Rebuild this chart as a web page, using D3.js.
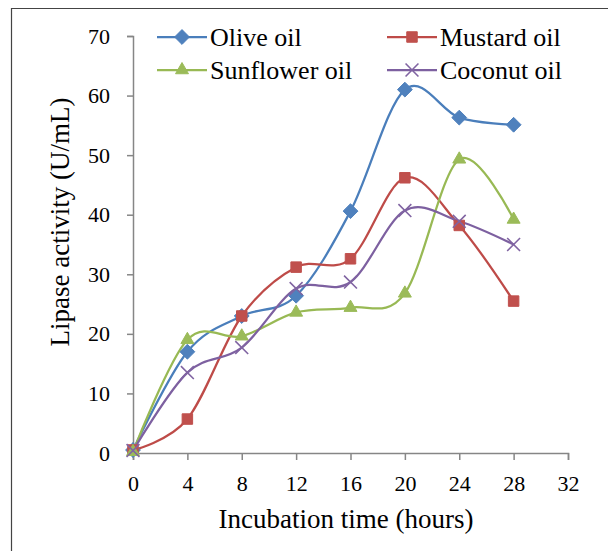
<!DOCTYPE html>
<html>
<head>
<meta charset="utf-8">
<script src="https://cdn.jsdelivr.net/npm/d3@7"></script>
<style>
  body { margin: 0; background: #fff; }
  svg text { font-family: "Liberation Serif", "Times New Roman", serif !important; fill: #000; }
</style>
</head>
<body>
<div id="app"></div>
<script>
const hours = [0, 4, 8, 12, 16, 20, 24, 28]
const olive = [0.5, 17.0, 23.0, 26.4, 40.6, 61.0, 56.3, 55.1]
const mustard = [0.5, 5.7, 23.0, 31.2, 32.6, 46.2, 38.2, 25.5]
const sunflower = [0.2, 19.0, 19.6, 23.6, 24.4, 26.8, 49.3, 39.2]
const coconut = [0.4, 13.5, 17.7, 27.6, 28.7, 40.7, 38.9, 35.0]
const xTicks = [0, 4, 8, 12, 16, 20, 24, 28, 32]
const yTicks = [0, 10, 20, 30, 40, 50, 60, 70]

const series = [
  { name: 'Olive oil', values: olive, color: '#4A7EBB', marker: '#4F81BD', symbol: d3.symbolDiamond2 },
  { name: 'Mustard oil', values: mustard, color: '#BE4B48', marker: '#C0504D', symbol: d3.symbolSquare2 },
  { name: 'Sunflower oil', values: sunflower, color: '#98B954', marker: '#9BBB59', symbol: d3.symbolTriangle2 },
  { name: 'Coconut oil', values: coconut, color: '#7D60A0', marker: '#8064A2', symbol: d3.symbolX }
]

const serif = '"Liberation Serif", "Times New Roman", serif'
const width = 608, height = 551
const svg = d3.select('#app').append('svg')
  .attr('width', width)
  .attr('height', height)
  .attr('font-family', serif)

// outer frame (only top + left visible in the crop)
svg.append('path')
  .attr('d', `M11.5,${height}V8.5H${width}`)
  .attr('fill', 'none')
  .attr('stroke', '#444')
  .attr('stroke-width', 1.2)

const x = d3.scaleLinear().domain([0, 32]).range([133, 568])
const y = d3.scaleLinear().domain([0, 70]).range([453, 36])

const axisColor = '#868686'

const xAxis = svg.append('g')
  .attr('transform', `translate(0,${y(0)})`)
  .call(d3.axisBottom(x).tickValues(xTicks).tickSize(7).tickPadding(15))
  .attr('font-family', serif)
xAxis.select('.domain').attr('stroke', axisColor).attr('stroke-width', 1.5)
xAxis.selectAll('.tick line').attr('stroke', axisColor).attr('stroke-width', 1.5)
xAxis.selectAll('.tick text').style('font-size', '22px')

const yAxis = svg.append('g')
  .attr('transform', `translate(${x(0)},0)`)
  .call(d3.axisLeft(y).tickValues(yTicks).tickSize(6).tickPadding(17))
  .attr('font-family', serif)
yAxis.select('.domain').attr('stroke', axisColor).attr('stroke-width', 1.5)
yAxis.selectAll('.tick line').attr('stroke', axisColor).attr('stroke-width', 1.5)
yAxis.selectAll('.tick text').style('font-size', '22px')

svg.append('text')
  .attr('x', 346)
  .attr('y', 528)
  .attr('text-anchor', 'middle')
  .style('font-size', '27px')
  .text('Incubation time (hours)')

svg.append('text')
  .attr('transform', `translate(69,222) rotate(-90)`)
  .attr('text-anchor', 'middle')
  .style('font-size', '27px')
  .text('Lipase activity (U/mL)')

const line = d3.line()
  .x((d, i) => x(hours[i]))
  .y(d => y(d))
  .curve(d3.curveCardinal.tension(0))

function drawMarker(g, s, cx, cy) {
  const size = s.symbol === d3.symbolX ? 110 : (s.symbol === d3.symbolTriangle2 ? 120 : 140)
  const p = g.append('path')
    .attr('d', d3.symbol(s.symbol, size)())
    .attr('transform', `translate(${cx},${cy})`)
  if (s.symbol === d3.symbolX) {
    p.attr('fill', 'none').attr('stroke', s.marker).attr('stroke-width', 1.6)
  } else {
    p.attr('fill', s.marker).attr('stroke', s.marker).attr('stroke-width', 1)
  }
}

series.forEach(s => {
  svg.append('path')
    .datum(s.values)
    .attr('d', line)
    .attr('fill', 'none')
    .attr('stroke', s.color)
    .attr('stroke-width', 2.25)
})

series.forEach(s => {
  const g = svg.append('g')
  s.values.forEach((v, i) => drawMarker(g, s, x(hours[i]), y(v)))
})

// legend
const legendPos = [[157, 37], [387, 37], [157, 70], [387, 70]]
series.forEach((s, i) => {
  const [lx, ly] = legendPos[i]
  const g = svg.append('g')
  g.append('line')
    .attr('x1', lx).attr('x2', lx + 50)
    .attr('y1', ly).attr('y2', ly)
    .attr('stroke', s.color)
    .attr('stroke-width', 2.25)
  drawMarker(g, s, lx + 25, ly)
  g.append('text')
    .attr('x', lx + 53)
    .attr('y', ly + 9)
    .style('font-size', '26px')
    .text(s.name)
})
</script>
</body>
</html>
